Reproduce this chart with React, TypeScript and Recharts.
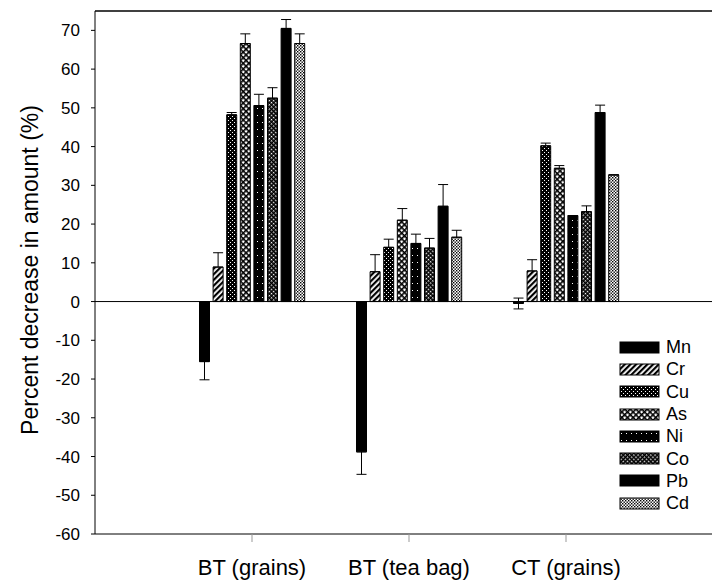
import React from 'react';
import { BarChart, Bar, XAxis, YAxis, ErrorBar, ReferenceLine, Legend } from 'recharts';

const categories = ['BT (grains)', 'BT (tea bag)', 'CT (grains)'];
const metals = ['Mn', 'Cr', 'Cu', 'As', 'Ni', 'Co', 'Pb', 'Cd'];
const yTicks = [-60, -50, -40, -30, -20, -10, 0, 10, 20, 30, 40, 50, 60, 70];

const mnValues = [-15.5, -38.8, -0.5];
const crValues = [8.9, 7.7, 7.9];
const cuValues = [48.2, 14.0, 40.2];
const asValues = [66.6, 21.0, 34.4];
const niValues = [50.6, 15.0, 22.2];
const coValues = [52.5, 13.8, 23.2];
const pbValues = [70.5, 24.6, 48.8];
const cdValues = [66.6, 16.6, 32.7];

// lower / upper error amounts
const mnErrLow = [4.7, 5.8, 1.4];
const mnErrHigh = [0, 0, 1.4];
const crErrHigh = [3.7, 4.4, 2.9];
const cuErrHigh = [0.6, 2.1, 0.7];
const asErrHigh = [2.5, 3.0, 0.7];
const niErrHigh = [2.9, 2.4, 0];
const coErrHigh = [2.7, 2.5, 1.5];
const pbErrHigh = [2.3, 5.6, 1.9];
const cdErrHigh = [2.5, 1.8, 0];
const noErr = [0, 0, 0];

const seriesValues: Record<string, number[]> = {
  Mn: mnValues, Cr: crValues, Cu: cuValues, As: asValues,
  Ni: niValues, Co: coValues, Pb: pbValues, Cd: cdValues,
};
const seriesErrLow: Record<string, number[]> = {
  Mn: mnErrLow, Cr: noErr, Cu: noErr, As: noErr, Ni: noErr, Co: noErr, Pb: noErr, Cd: noErr,
};
const seriesErrHigh: Record<string, number[]> = {
  Mn: mnErrHigh, Cr: crErrHigh, Cu: cuErrHigh, As: asErrHigh,
  Ni: niErrHigh, Co: coErrHigh, Pb: pbErrHigh, Cd: cdErrHigh,
};

const data = categories.map((cat, i) => {
  const row: any = { cat };
  metals.forEach((m) => {
    row[m] = seriesValues[m][i];
    row[m + 'Err'] = [seriesErrLow[m][i], seriesErrHigh[m][i]];
  });
  return row;
});

const fills: Record<string, string> = {
  Mn: '#000',
  Cr: 'url(#pat-Cr)',
  Cu: 'url(#pat-Cu)',
  As: 'url(#pat-As)',
  Ni: 'url(#pat-Ni)',
  Co: 'url(#pat-Co)',
  Pb: '#000',
  Cd: 'url(#pat-Cd)',
};

const FONT = '"Liberation Sans", Arial, sans-serif';

const LegendContent = () => (
  <div style={{ fontFamily: FONT }}>
    {metals.map((m) => (
      <div key={m} style={{ display: 'flex', alignItems: 'center', height: 22.3 }}>
        <svg width={42} height={13} style={{ display: 'block' }}>
          <rect x={1} y={1} width={39} height={11} fill={fills[m]} stroke="#000" strokeWidth={1} />
        </svg>
        <span style={{ marginLeft: 5, fontSize: 18, color: '#000', lineHeight: '18px' }}>{m}</span>
      </div>
    ))}
  </div>
);

export default function App() {
  return (
    <div style={{ position: 'absolute', left: 0, top: 0, width: 712, height: 584, background: '#fff' }}>
      <BarChart
        width={712}
        height={584}
        data={data}
        margin={{ top: 11, right: 0, left: 0, bottom: 0 }}
        barSize={10}
        barGap={3.6}
      >
        <defs>
          <pattern id="pat-Cr" width="4" height="4" patternUnits="userSpaceOnUse" patternTransform="rotate(45)">
            <rect width="4" height="4" fill="#fff" />
            <rect width="2.2" height="4" fill="#000" />
          </pattern>
          <pattern id="pat-Cu" width="4" height="4" patternUnits="userSpaceOnUse">
            <rect width="4" height="4" fill="#000" />
            <rect x="0" y="0" width="1" height="1" fill="#fff" />
            <rect x="2" y="2" width="1" height="1" fill="#fff" />
          </pattern>
          <pattern id="pat-As" width="4" height="4" patternUnits="userSpaceOnUse" patternTransform="rotate(45)">
            <rect width="4" height="4" fill="#fff" />
            <rect width="4" height="1.6" fill="#000" />
            <rect width="1.6" height="4" fill="#000" />
          </pattern>
          <pattern id="pat-Ni" width="5" height="7" patternUnits="userSpaceOnUse">
            <rect width="5" height="7" fill="#000" />
            <rect x="2" y="3" width="1" height="1" fill="#fff" />
          </pattern>
          <pattern id="pat-Co" width="3" height="3" patternUnits="userSpaceOnUse" patternTransform="rotate(45)">
            <rect width="3" height="3" fill="#000" />
            <rect width="1.4" height="1.4" fill="#fff" />
          </pattern>
          <pattern id="pat-Cd" width="3" height="3" patternUnits="userSpaceOnUse">
            <rect width="3" height="3" fill="#fff" />
            <rect x="0" y="0" width="1.4" height="1.4" fill="#000" />
            <rect x="1.5" y="1.5" width="1.4" height="1.4" fill="#000" />
          </pattern>
        </defs>
        <XAxis
          dataKey="cat"
          height={50}
          padding={{ left: 78.5, right: 67.5 }}
          axisLine={{ stroke: '#000', strokeWidth: 1 }}
          tickLine={{ stroke: '#999' }}
          tickSize={8}
          tickMargin={17}
          tick={{ fill: '#000', fontSize: 22, fontFamily: FONT }}
          interval={0}
        />
        <YAxis
          width={95}
          domain={[-60, 75]}
          ticks={yTicks}
          allowDataOverflow
          axisLine={{ stroke: '#000', strokeWidth: 1 }}
          tickLine={{ stroke: '#000' }}
          tickSize={4}
          tickMargin={11}
          tick={{ fill: '#000', fontSize: 17, fontFamily: FONT }}
          label={{
            value: 'Percent decrease in amount (%)',
            angle: -90,
            position: 'center',
            dx: -17.5,
            dy: -2.5,
            style: { fontSize: 23, fontFamily: FONT, fill: '#000', textAnchor: 'middle' },
          }}
        />
        <ReferenceLine y={75} stroke="#000" strokeWidth={1.5} />
        <ReferenceLine y={0} stroke="#000" strokeWidth={1} />
        {metals.map((m) => (
          <Bar key={m} dataKey={m} fill={fills[m]} stroke="#000" strokeWidth={1} isAnimationActive={false}>
            <ErrorBar dataKey={m + 'Err'} width={5} stroke="#000" strokeWidth={1} direction="y" />
          </Bar>
        ))}
        <Legend
          layout="vertical"
          align="center"
          verticalAlign="middle"
          content={<LegendContent />}
          wrapperStyle={{ position: 'absolute', left: 619, top: 336, width: 90 }}
        />
      </BarChart>
    </div>
  );
}
